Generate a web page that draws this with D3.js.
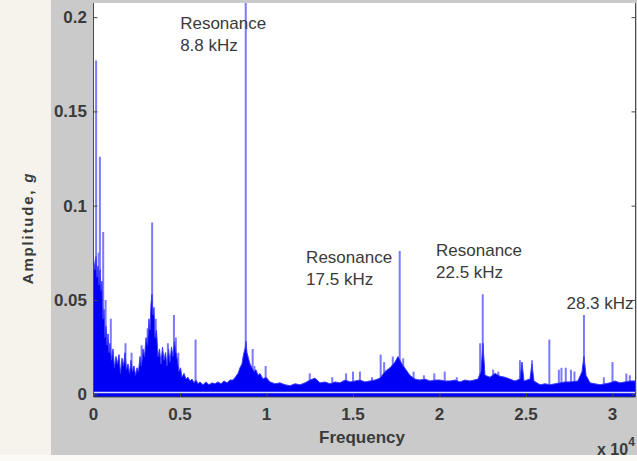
<!DOCTYPE html>
<html>
<head>
<meta charset="utf-8">
<script src="https://cdn.jsdelivr.net/npm/d3@7/dist/d3.min.js"></script>
<style>
  html, body { margin: 0; padding: 0; background: #fbfaf7; }
  svg { display: block; }
  text { font-family: "Liberation Sans", Arial, Helvetica, sans-serif; }
</style>
</head>
<body>
<svg id="chart" width="637" height="461"></svg>
<script>
// ---- data ----
// upper edge of the dense spectrum (Hz, g)
const envFreq = [0, 87, 145, 202, 260, 318, 376, 434, 491, 549, 607, 665, 722, 780, 838, 896, 954, 1040, 1127, 1213, 1300, 1387, 1474, 1561, 1647, 1734, 1821, 1907, 1994, 2081, 2168, 2254, 2341, 2428, 2514, 2601, 2688, 2774, 2861, 2948, 3035, 3121, 3208, 3266, 3324, 3381, 3439, 3497, 3555, 3641, 3728, 3815, 3901, 3988, 4075, 4162, 4248, 4335, 4422, 4508, 4595, 4682, 4768, 4855, 4942, 5029, 5115, 5231, 5347, 5462, 5578, 5693, 5809, 5925, 6040, 6156, 6329, 6503, 6676, 6850, 7023, 7196, 7370, 7543, 7716, 7890, 8063, 8237, 8352, 8468, 8583, 8670, 8757, 8815, 8872, 8959, 9046, 9161, 9277, 9393, 9508, 9624, 9797, 9971,
  10200, 10490, 10780, 11070, 11360, 11650, 11940, 12230, 12510, 12800, 13090, 13380, 13670, 13960, 14250, 14540, 14830, 15120, 15400, 15690, 15980, 16270, 16560, 16850, 17140, 17430, 17600, 17830, 18060, 18290, 18580, 18870, 19160, 19450, 19740, 20030, 20320, 20610, 20900, 21180, 21470, 21760, 22000, 22220, 22400, 22510, 22630, 22920, 23210, 23500, 23780, 24070, 24360, 24650, 24770, 24880, 25230, 25340, 25460, 25810, 26100, 26390, 26680, 26960, 27250, 27540, 28000, 28240, 28350, 28470, 28700, 28990, 29280, 29570, 29850, 30140, 30430, 30720, 31010, 31360];
const envAmp  = [0.072, 0.066, 0.073, 0.062, 0.068, 0.058, 0.066, 0.055, 0.060, 0.040, 0.045, 0.030, 0.036, 0.026, 0.032, 0.022, 0.027, 0.018, 0.024, 0.014, 0.020, 0.016, 0.021, 0.011, 0.019, 0.015, 0.022, 0.013, 0.016, 0.011, 0.018, 0.012, 0.015, 0.010, 0.014, 0.012, 0.020, 0.015, 0.024, 0.020, 0.030, 0.026, 0.040, 0.034, 0.048, 0.053, 0.042, 0.046, 0.030, 0.034, 0.020, 0.024, 0.016, 0.025, 0.018, 0.022, 0.015, 0.024, 0.017, 0.025, 0.020, 0.028, 0.022, 0.018, 0.012, 0.014, 0.009, 0.011, 0.008, 0.009, 0.007, 0.008, 0.006, 0.0075, 0.0055, 0.0065, 0.005, 0.0065, 0.005, 0.006, 0.0055, 0.0065, 0.0055, 0.007, 0.006, 0.0075, 0.0075, 0.0095, 0.011, 0.014, 0.016, 0.021, 0.024, 0.028, 0.022, 0.019, 0.016, 0.014, 0.012, 0.013, 0.010, 0.011, 0.008, 0.009,
  0.0065, 0.0055, 0.006, 0.005, 0.0045, 0.0055, 0.005, 0.006, 0.0075, 0.0085, 0.006, 0.0065, 0.0055, 0.0065, 0.006, 0.0075, 0.0065, 0.007, 0.0075, 0.0065, 0.007, 0.0075, 0.0085, 0.012, 0.014, 0.017, 0.020, 0.016, 0.013, 0.010, 0.008, 0.0075, 0.008, 0.007, 0.0075, 0.0075, 0.007, 0.007, 0.0075, 0.0065, 0.0075, 0.007, 0.0075, 0.008, 0.012, 0.027, 0.010, 0.009, 0.011, 0.0095, 0.009, 0.008, 0.007, 0.008, 0.017, 0.007, 0.008, 0.016, 0.007, 0.005, 0.0055, 0.005, 0.0055, 0.006, 0.0065, 0.0065, 0.007, 0.012, 0.020, 0.010, 0.006, 0.0055, 0.005, 0.0055, 0.006, 0.007, 0.006, 0.0065, 0.007, 0.007];
// isolated narrow peaks (Hz, g)
const spikeFreq = [150, 300, 370, 560, 700, 1000, 1850, 2200, 2780, 3130, 3390, 3600, 4300, 4650, 4760, 4900, 5900, 8800, 9200, 9300, 9950, 12500, 13800, 14600, 15000, 15400, 16100, 16600, 16800, 17300, 17700, 17900, 18500, 19100, 19700, 20300, 21000, 22350, 22500, 23100, 23400, 24650, 25350, 26350, 26900, 27050, 27300, 27600, 27800, 28350, 29500, 30000, 30800, 31000];
const spikeAmp  = [0.177, 0.075, 0.126, 0.086, 0.050, 0.040, 0.027, 0.022, 0.026, 0.035, 0.091, 0.040, 0.027, 0.042, 0.030, 0.022, 0.029, 0.215, 0.024, 0.015, 0.015, 0.011, 0.009, 0.011, 0.012, 0.012, 0.009, 0.021, 0.017, 0.020, 0.076, 0.019, 0.012, 0.010, 0.011, 0.012, 0.009, 0.027, 0.053, 0.013, 0.012, 0.018, 0.018, 0.029, 0.013, 0.014, 0.014, 0.013, 0.012, 0.042, 0.009, 0.017, 0.011, 0.010];
// thin light trace near the floor
const floorFreq = [0, 31360];
const floorAmp  = [0.0009, 0.0009];
// axis ticks
const xTicks = [0, 5000, 10000, 15000, 20000, 25000, 30000];
const xTickLabels = ["0", "0.5", "1", "1.5", "2", "2.5", "3"];
const yTicks = [0, 0.05, 0.1, 0.15, 0.2];
const yTickLabels = ["0", "0.05", "0.1", "0.15", "0.2"];
// annotations
const annoLines = [["Resonance", "8.8 kHz"], ["Resonance", "17.5 kHz"], ["Resonance", "22.5 kHz"], ["28.3 kHz"]];
const annoFreq = [5010, 12290, 19800, 27340];
const annoAmp  = [0.1935, 0.0695, 0.0735, 0.0450];

// ---- layout ----
const svg = d3.select("#chart");
const L = 93.5, R = 635.5, T = 3, B = 397;
const x = d3.scaleLinear().domain([0, 31330]).range([L, R]);
const y = d3.scaleLinear().domain([-0.0015, 0.2075]).range([B, T]);

// backgrounds
svg.append("rect").attr("x", 0).attr("y", 0).attr("width", 637).attr("height", 461).attr("fill", "#fbfaf7");
svg.append("rect").attr("x", 0).attr("y", 0).attr("width", 51).attr("height", 455).attr("fill", "#f5f3ec");
svg.append("rect").attr("x", 51).attr("y", 0).attr("width", 586).attr("height", 455).attr("fill", "#cacaca");
svg.append("rect").attr("x", L).attr("y", T).attr("width", R - L).attr("height", B - T).attr("fill", "#ffffff");

svg.append("clipPath").attr("id", "clip").append("rect")
  .attr("x", L).attr("y", T).attr("width", R - L).attr("height", B - T);
const g = svg.append("g").attr("clip-path", "url(#clip)");

// spikes (light thin lines)
g.selectAll("line.spike").data(spikeFreq).join("line")
  .attr("class", "spike")
  .attr("x1", d => x(d)).attr("x2", d => x(d))
  .attr("y1", y(0)).attr("y2", (d, i) => y(spikeAmp[i]))
  .attr("stroke", "#7a7aff").attr("stroke-width", 2);

// dense spectrum area
const envData = envFreq.map((f, i) => [f, envAmp[i]]);
const area = d3.area().x(d => x(d[0])).y0(y(-0.0015)).y1(d => y(d[1]));
g.append("path").datum(envData).attr("d", area).attr("fill", "#0000f5");
// ragged upper edge
const line = d3.line().x(d => x(d[0])).y(d => y(d[1]));
g.append("path").datum(envData).attr("d", line).attr("fill", "none")
  .attr("stroke", "#3a3aff").attr("stroke-width", 1);

// light floor trace
g.append("path").datum(floorFreq.map((f, i) => [f, floorAmp[i]])).attr("d", line)
  .attr("fill", "none").attr("stroke", "#dcdcff").attr("stroke-width", 1.5);

// axes lines
const axisColor = "#4a4a4a";
svg.append("line").attr("x1", L).attr("x2", L).attr("y1", T).attr("y2", B).attr("stroke", axisColor);
svg.append("line").attr("x1", R).attr("x2", R).attr("y1", T).attr("y2", B).attr("stroke", axisColor);
svg.append("line").attr("x1", L).attr("x2", R).attr("y1", B).attr("y2", B).attr("stroke", axisColor);

// ticks (inward) via d3 axes
const yAxisL = svg.append("g").attr("transform", `translate(${L},0)`)
  .call(d3.axisRight(y).tickValues(yTicks).tickSize(4).tickFormat(""));
const yAxisR = svg.append("g").attr("transform", `translate(${R},0)`)
  .call(d3.axisLeft(y).tickValues(yTicks).tickSize(4).tickFormat(""));
const xAxisB = svg.append("g").attr("transform", `translate(0,${B})`)
  .call(d3.axisTop(x).tickValues(xTicks).tickSize(4).tickFormat(""));
[yAxisL, yAxisR, xAxisB].forEach(a => {
  a.select(".domain").remove();
  a.selectAll(".tick line").attr("stroke", axisColor);
});

// tick labels
svg.append("g").selectAll("text").data(yTicks).join("text")
  .attr("x", 87).attr("y", d => y(d) + 6)
  .attr("text-anchor", "end")
  .attr("font-size", 17).attr("font-weight", "bold").attr("fill", "#3a3a3a")
  .text((d, i) => yTickLabels[i]);
svg.append("g").selectAll("text").data(xTicks).join("text")
  .attr("x", d => x(d)).attr("y", 420)
  .attr("text-anchor", "middle")
  .attr("font-size", 17).attr("font-weight", "bold").attr("fill", "#3a3a3a")
  .text((d, i) => xTickLabels[i]);

// axis titles
svg.append("text").attr("x", 362).attr("y", 443).attr("text-anchor", "middle")
  .attr("font-size", 17).attr("font-weight", "bold").attr("fill", "#3a3a3a").text("Frequency");
const xe = svg.append("text").attr("x", 597).attr("y", 455)
  .attr("font-size", 16).attr("font-weight", "bold").attr("fill", "#3a3a3a");
xe.append("tspan").text("x 10");
xe.append("tspan").attr("dy", -9).attr("font-size", 12).text("4");

const yl = svg.append("text").attr("transform", "translate(33,228) rotate(-90)")
  .attr("text-anchor", "middle").attr("font-size", 15).attr("font-weight", "bold")
  .attr("fill", "#3a3a3a").attr("letter-spacing", 1.8);
yl.append("tspan").text("Amplitude, ");
yl.append("tspan").attr("font-style", "italic").text("g");

// annotations
annoLines.forEach((lines, i) => {
  const t = svg.append("text").attr("x", x(annoFreq[i])).attr("y", y(annoAmp[i]))
    .attr("font-size", 17).attr("fill", "#3a3a3a");
  lines.forEach((s, j) => {
    t.append("tspan").attr("x", x(annoFreq[i])).attr("dy", j === 0 ? 0 : 22).text(s);
  });
});
</script>
</body>
</html>
